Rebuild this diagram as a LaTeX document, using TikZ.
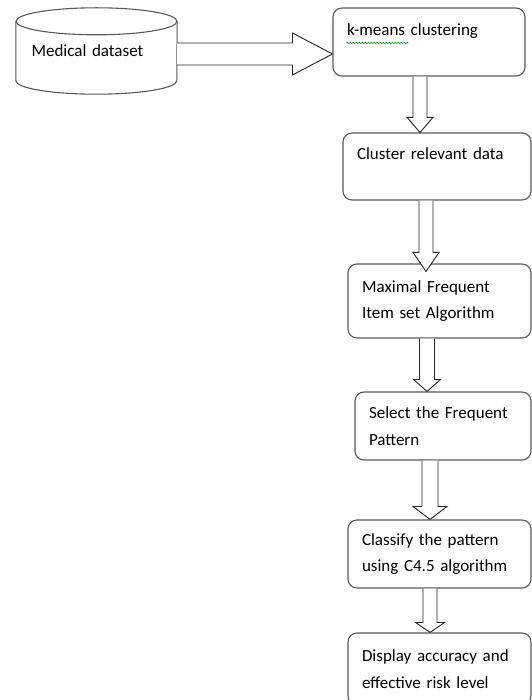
\documentclass[tikz,border=0pt]{standalone}
\usepackage{fontspec}
\setmainfont{Carlito}
\usetikzlibrary{calc, decorations.pathmorphing}

\begin{document}
\begin{tikzpicture}[
        x=1pt, y=-1pt,
        box/.style={rectangle, rounded corners=9pt, draw=black!65, line width=1.1pt, fill=white, inner xsep=14pt, inner ysep=0pt, align=left, font=\fontsize{17}{26.5}\selectfont},
        onerow/.style={text depth=25pt},
        store/.style={rectangle, minimum width=161pt, minimum height=59pt, inner sep=0pt, text width=130pt, align=left, font=\fontsize{17}{26.5}\selectfont},
        storeline/.style={draw=black!65, line width=1.1pt},
        blockarrow/.style={draw=black!85, line width=0.9pt, fill=white, line join=miter},
        squiggle/.style={draw=green!55!black, line width=0.5pt, decorate, decoration={snake, amplitude=0.8pt, segment length=3pt}}
    ]
    \useasboundingbox (0,0) rectangle (531,700);
    
    % Data source (drum)
    \node[store] (dataset) at (96.5,51) {Medical dataset};
    \draw[storeline] (dataset.north west) -- (dataset.south west)
    arc[start angle=180, end angle=360, x radius=80.5pt, y radius=13.5pt] -- (dataset.north east);
    \draw[storeline] (dataset.north) ellipse[x radius=80.5pt, y radius=13.5pt];
    
    % Process steps
    \node[box, onerow, text width=164pt, minimum height=68pt] (kmeans) at (429,42) {k-means clustering};
    \node[box, onerow, text width=160pt, minimum height=67pt] (cluster) at (437,166.5) {Cluster relevant data};
    \node[box, text width=155pt, minimum height=74pt] (maximal) at (439.5,301) {Maximal Frequent\\Item set Algorithm};
    \node[box, text width=148pt, minimum height=68pt] (select) at (443,426) {Select the Frequent\\Pattern};
    \node[box, text width=155pt, minimum height=68pt] (classify) at (439.5,554) {Classify the pattern\\using C4.5 algorithm};
    \node[box, text width=155pt, minimum height=72pt] (display) at (439.5,669) {Display accuracy and\\effective risk level};
    
    % Spell-check mark under k-means
    \draw[squiggle] ($(kmeans.north west)+(14,35.5)$) -- ($(kmeans.north west)+(76,35.5)$);
    
    % --- Wide arrow into clustering ---
    \draw[blockarrow] let \p1=(dataset.east), \p2=(kmeans.west) in
    (\x1,\y1-3pt+11pt) -- (\x2-40pt,\y1-3pt+11pt) -- (\x2-40pt,\y1-3pt+21pt)
    -- (\x2,\y1-3pt) -- (\x2-40pt,\y1-3pt-21pt) -- (\x2-40pt,\y1-3pt-11pt) -- (\x1,\y1-3pt-11pt);
    
    % --- Downward arrows between steps ---
    \foreach \a/\b/\xc/\ov/\hlen/\hwid/\swid in {kmeans/cluster/420/0/15/13/7, cluster/maximal/426/8/19/13/7, maximal/select/427/0/12/13.5/7.5, select/classify/430/0/13/17/8, classify/display/430/0/10/14.5/7}
    \draw[blockarrow] let \p1=(\a.south), \p2=(\b.north) in
    (\xc pt-\swid pt,\y1) -- (\xc pt-\swid pt,\y2-\ov pt+\hlen pt) -- (\xc pt-\hwid pt,\y2-\ov pt+\hlen pt)
    -- (\xc pt,\y2-\ov pt) -- (\xc pt+\hwid pt,\y2-\ov pt+\hlen pt) -- (\xc pt+\swid pt,\y2-\ov pt+\hlen pt) -- (\xc pt+\swid pt,\y1);
    
\end{tikzpicture}
\end{document}
